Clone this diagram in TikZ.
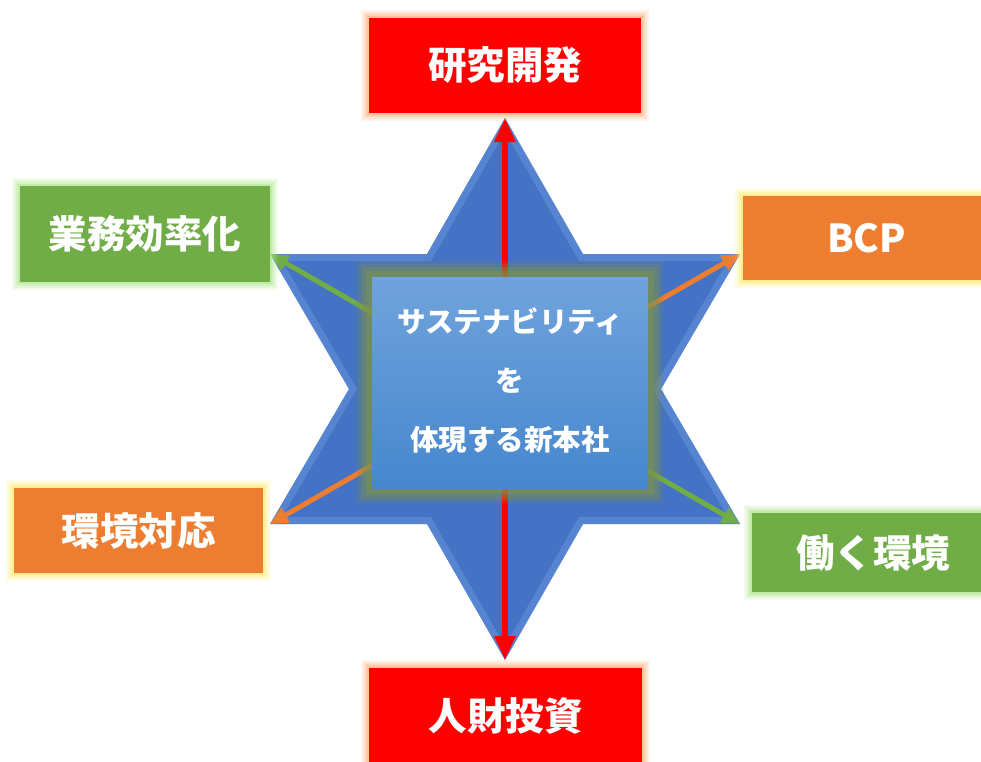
\documentclass[tikz,border=0pt]{standalone}
\usepackage{fontspec}
\newfontfamily\jp{Noto Sans CJK JP}
\usetikzlibrary{arrows.meta}
\definecolor{starblue}{RGB}{68,114,196}
\definecolor{starlight}{RGB}{110,155,225}
\definecolor{ofred}{RGB}{255,0,0}
\definecolor{ofgreen}{RGB}{112,173,71}
\definecolor{oforange}{RGB}{237,125,49}
\definecolor{glowred}{RGB}{255,175,120}
\definecolor{glowgreen}{RGB}{175,230,140}
\definecolor{glowyellow}{RGB}{255,235,110}
\definecolor{glowolive}{RGB}{125,145,75}
\definecolor{ctop}{RGB}{112,163,220}
\definecolor{cbot}{RGB}{70,135,205}
\begin{document}
\begin{tikzpicture}[x=1pt,y=-1pt,
  box/.style={inner sep=0pt, text=white, font=\jp\bfseries\fontsize{38.5}{40}\selectfont},
  glow/.style={preaction={draw=#1,line width=16pt,draw opacity=0.15},
               preaction={draw=#1,line width=12pt,draw opacity=0.2},
               preaction={draw=#1,line width=8pt,draw opacity=0.3},
               preaction={draw=#1,line width=4pt,draw opacity=0.5}},
  link/.style={line width=#1},
]
\useasboundingbox (0,0) rectangle (981,761);
\clip (0,0) rectangle (981,761);
\fill[white] (0,0) rectangle (981,761);

% star geometry
\coordinate (C) at (505,389);
\coordinate (T) at (505,118);
\coordinate (UR) at (740,254);
\coordinate (LR) at (740,524);
\coordinate (B) at (505,660);
\coordinate (LL) at (270,524);
\coordinate (UL) at (270,254);
\def\starpath{(T) -- (583,254) -- (UR) -- (661,389) -- (LR) -- (583,524) -- (B) -- (427,524) -- (LL) -- (349,389) -- (UL) -- (427,254) -- cycle}
\fill[starblue] \starpath;
\begin{scope}
  \clip \starpath;
  \draw[starlight, line width=14pt, opacity=0.45, line join=miter] \starpath;
\end{scope}

% connectors
\draw[ofred, link=6pt, -{Triangle[width=20pt,length=24pt]}] (C) -- (T);
\draw[ofred, link=6pt, -{Triangle[width=20pt,length=24pt]}] (C) -- (B);
\draw[ofgreen, link=5pt, -{Triangle[width=16pt,length=18pt]}] (C) -- (UL);
\draw[oforange, link=5pt, -{Triangle[width=16pt,length=18pt]}] (C) -- (UR);
\draw[oforange, link=5pt, -{Triangle[width=16pt,length=18pt]}] (C) -- (LL);
\draw[ofgreen, link=5pt, -{Triangle[width=16pt,length=18pt]}] (C) -- (LR);

% center box
\node[inner sep=0pt, minimum width=276pt, minimum height=211pt,
      top color=ctop, bottom color=cbot, draw=none,
      preaction={draw=glowolive,line width=32pt,draw opacity=0.15},
      preaction={draw=glowolive,line width=26pt,draw opacity=0.25},
      preaction={draw=glowolive,line width=20pt,draw opacity=0.35},
      preaction={draw=glowolive,line width=12pt,draw opacity=0.5},
      preaction={fill=cbot}] (center) at (510,382.5) {};
\node[text=white, align=center, font=\jp\bfseries\fontsize{28.5}{59}\selectfont] (ctext) at (510,381)
  {サステナビリティ\\を\\体現する新本社};

% outer boxes
\node[box, fill=ofred, glow=glowred, minimum width=272pt, minimum height=95pt] (rd) at (505,65.5) {研究開発};
\node[box, fill=ofred, glow=glowred, minimum width=273pt, minimum height=95pt] (hr) at (505.5,715.5) {人財投資};
\node[box, fill=ofgreen, glow=glowgreen, minimum width=250pt, minimum height=96pt] (eff) at (145,234) {業務効率化};
\node[box, fill=oforange, glow=glowyellow, minimum width=247pt, minimum height=84pt] (bcp) at (866.5,238) {BCP};
\node[box, fill=oforange, glow=glowyellow, minimum width=249pt, minimum height=85pt] (env) at (138.5,530.5) {環境対応};
\node[box, fill=ofgreen, glow=glowgreen, minimum width=242pt, minimum height=79pt] (work) at (873,552.5) {働く環境};
\end{tikzpicture}
\end{document}
